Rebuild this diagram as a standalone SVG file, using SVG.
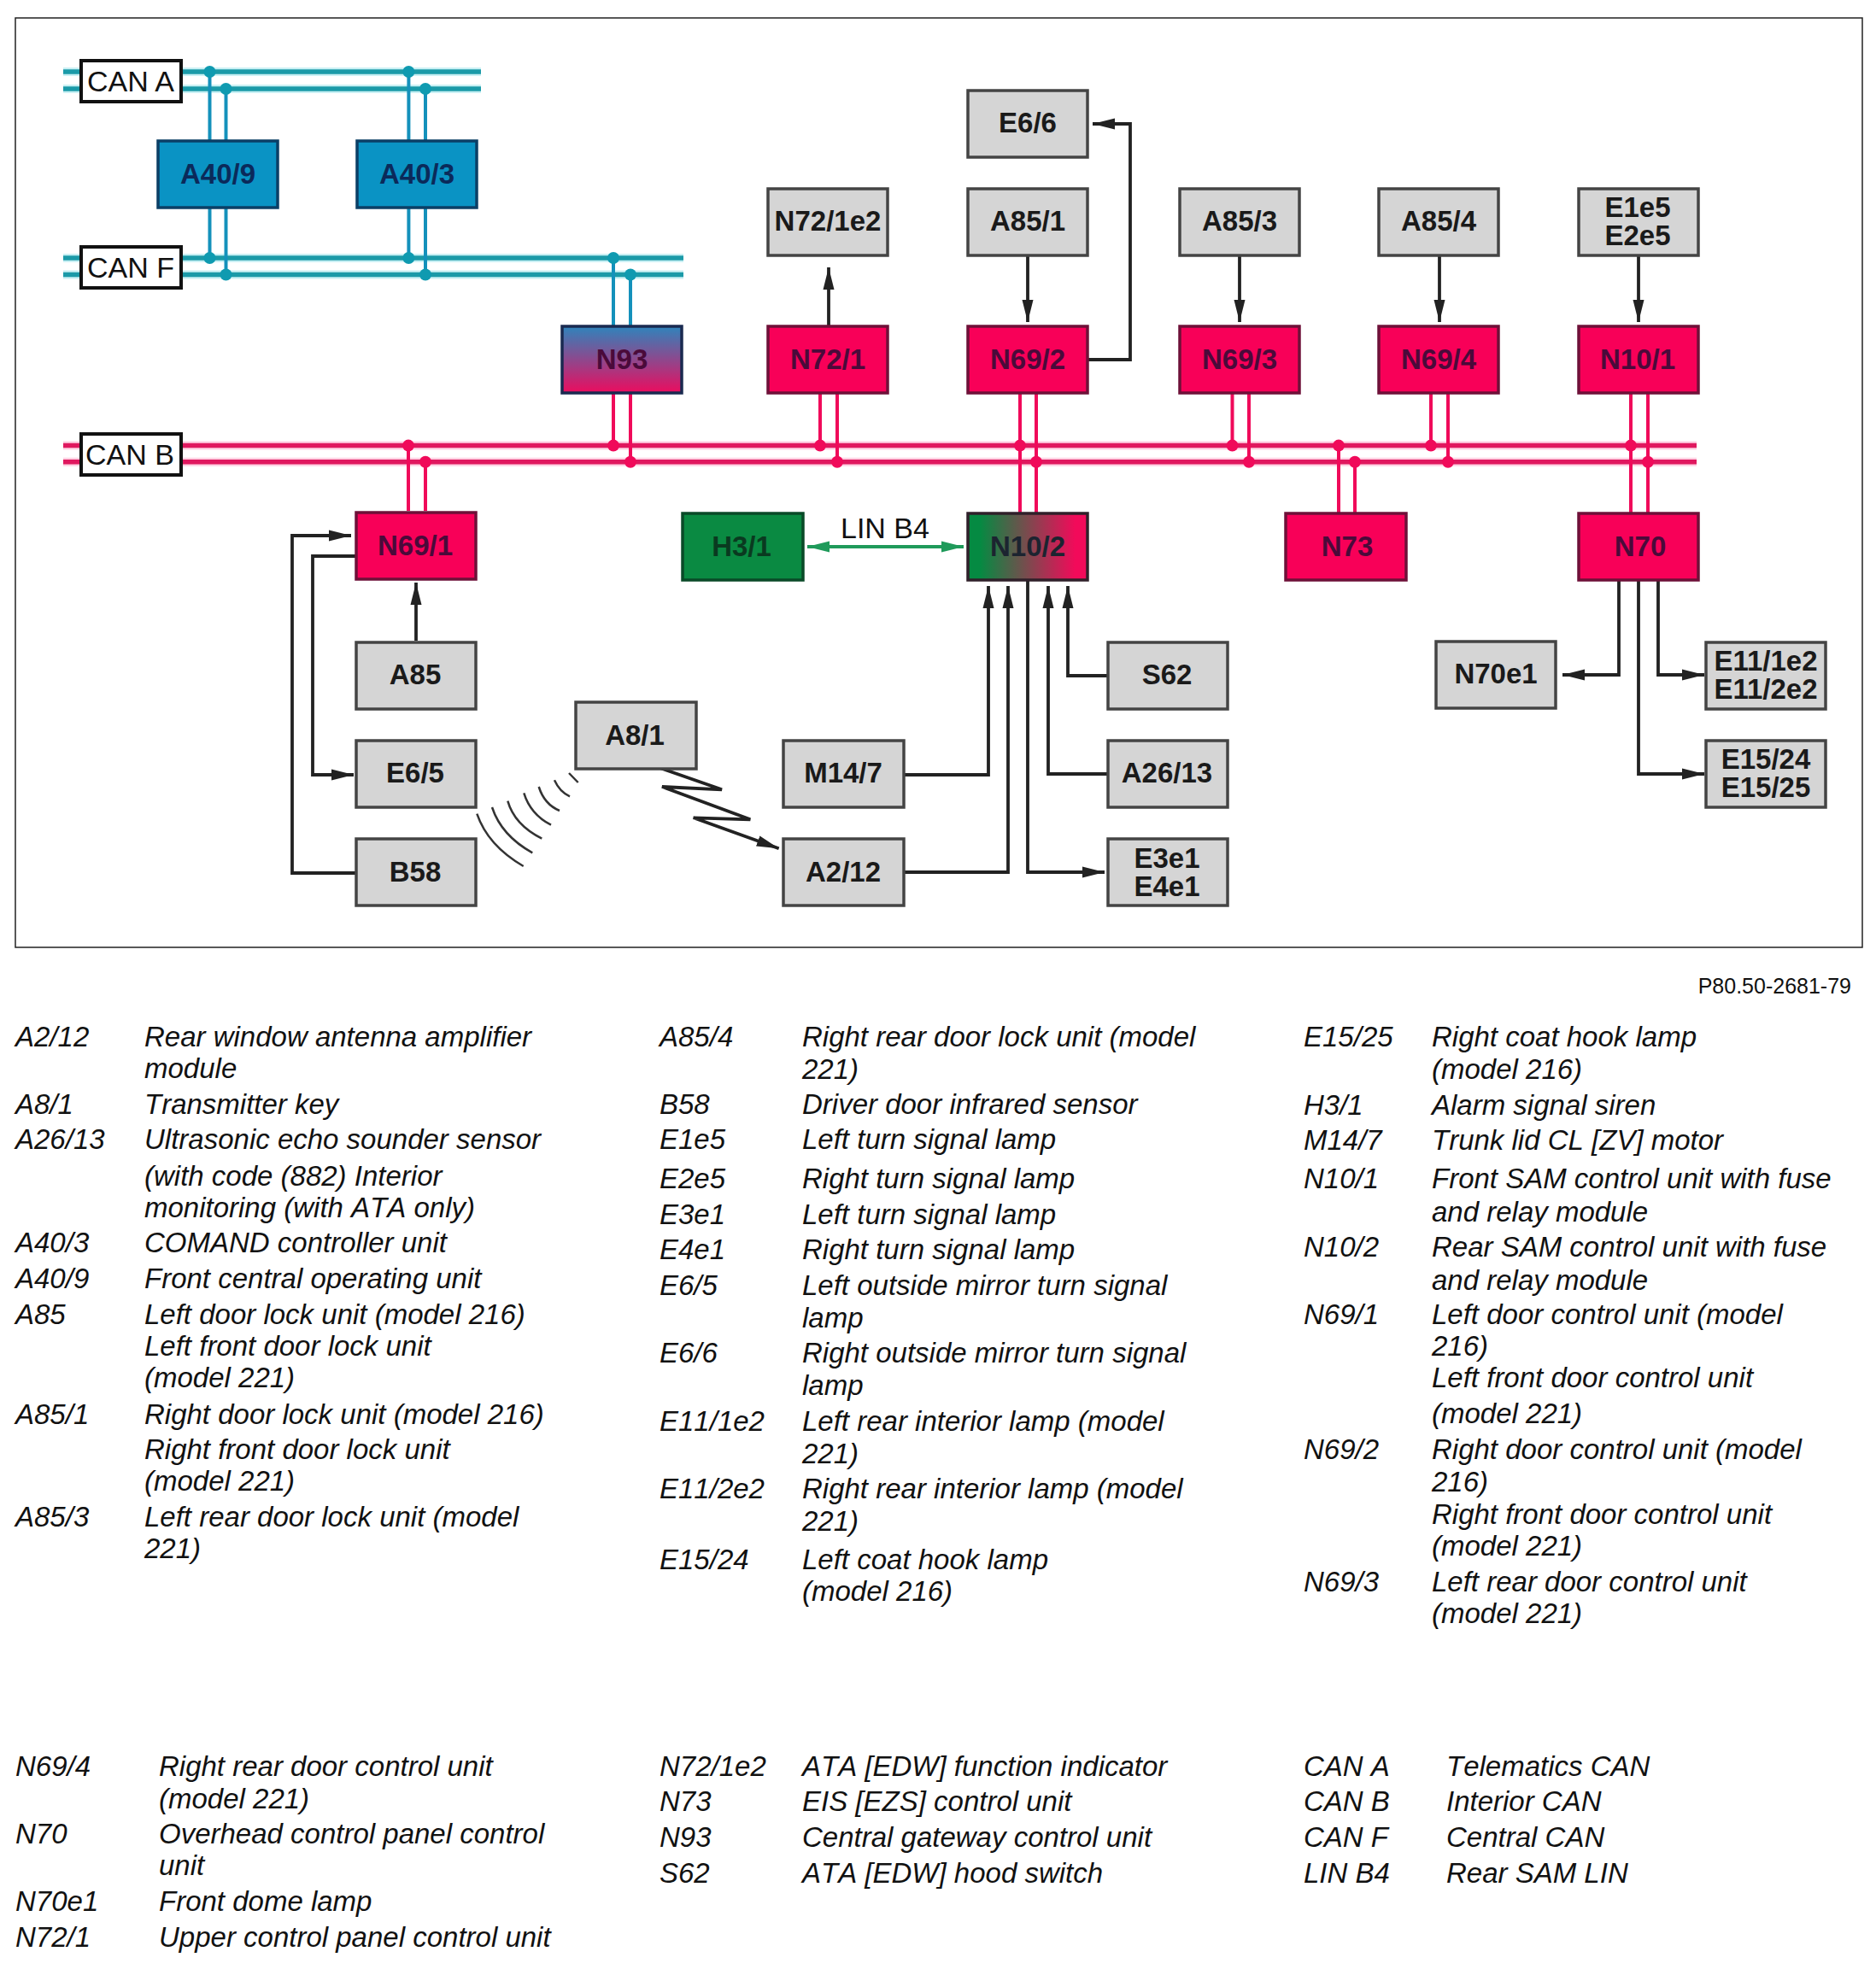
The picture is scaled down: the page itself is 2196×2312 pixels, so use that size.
<svg xmlns="http://www.w3.org/2000/svg" width="2196" height="2312" viewBox="0 0 2196 2312">
<style>
text{font-family:"Liberation Sans",Arial,sans-serif}
.box{stroke-width:3.5}
.gray{fill:#d5d5d5;stroke:#444}
.pink{fill:#f80058;stroke:#6e1038}
.blue{fill:#0a93c4;stroke:#0b3f66}
.green{fill:#0a8a42;stroke:#0a4a28}
.can{fill:#fff;stroke:#111;stroke-width:4}
.nt{font-size:33px;font-weight:bold;text-anchor:middle;fill:#1a1a1a}
.np{fill:#4a0a3a}.nb{fill:#0b2a5a}.ng{fill:#0a3a20}.nm{fill:#1c2430}
.ct{font-size:34px;text-anchor:middle;fill:#111}
.l,.d{font-size:33px;font-style:italic;fill:#111;font-kerning:none}
.t{fill:none;stroke:#222;stroke-width:3.8}
.a{marker-end:url(#ah)}
.tb{fill:none;stroke:#1b9aa8;stroke-width:5.5}
.tv{fill:none;stroke:#1491bb;stroke-width:4}
.pb{fill:none;stroke:#e0185f;stroke-width:5.5}
.pv{fill:none;stroke:#f00a5a;stroke-width:4}
.hb{fill:none;stroke-width:10;opacity:.25}
.td{fill:#0f9ab0}.pd{fill:#f00a5a}
.arc{fill:none;stroke:#333;stroke-width:2.5}
</style>
<defs>
<marker id="ah" markerUnits="userSpaceOnUse" markerWidth="28" markerHeight="14" refX="26" refY="7" orient="auto"><path d="M0 .5L26 7L0 13.5z" fill="#222"/></marker>
<marker id="ag" markerUnits="userSpaceOnUse" markerWidth="28" markerHeight="14" refX="26" refY="7" orient="auto-start-reverse"><path d="M0 .5L26 7L0 13.5z" fill="#1f9a5a"/></marker>
<linearGradient id="gN93" x1="0" y1="0" x2="0" y2="1"><stop offset="0" stop-color="#2f84bc"/><stop offset="1" stop-color="#ec0c5e"/></linearGradient>
<linearGradient id="gN102" x1="0" y1="0" x2="1" y2="0"><stop offset=".1" stop-color="#058a42"/><stop offset=".9" stop-color="#f20a5a"/></linearGradient>
</defs>
<rect id="frame" x="18" y="21" width="2162" height="1088" fill="#fff" stroke="#222" stroke-width="1.5"/>
<g id="connectors">
<path class="hb" stroke="#2cc4d4" d="M74 84H563M74 104H563M74 302H800M74 321.500H800"/>
<path class="hb" stroke="#ff4a90" d="M74 521.600H1986M74 540.800H1986"/>
<path class="tb" d="M74 84H563M74 104H563M74 302H800M74 321.500H800"/>
<path class="pb" d="M74 521.600H1986M74 540.800H1986"/>
<path class="tv" d="M245.500 84V165M264.500 104V165M245.500 243V302M264.500 243V321.500M478.400 84V165M498 104V165M478.400 243V302M498 243V321.500M718 302V382M738 321.500V382"/>
<path class="pv" d="M718 461V521.600M738 461V540.800M960 461V521.600M980 461V540.800M1194 461V601M1213 461V601M1442.500 461V521.600M1462 461V540.800M1675 461V521.600M1695 461V540.800M1909 461V601M1929 461V601M478 521.600V598M498 540.800V598M1567 521.600V601M1586 540.800V601"/>
<g class="td"><circle cx="245.500" cy="84" r="7"/><circle cx="478.400" cy="84" r="7"/><circle cx="264.500" cy="104" r="7"/><circle cx="498" cy="104" r="7"/><circle cx="245.500" cy="302" r="7"/><circle cx="478.400" cy="302" r="7"/><circle cx="718" cy="302" r="7"/><circle cx="264.500" cy="321.500" r="7"/><circle cx="498" cy="321.500" r="7"/><circle cx="738" cy="321.500" r="7"/></g>
<g class="pd"><circle cx="478" cy="521.600" r="7"/><circle cx="718" cy="521.600" r="7"/><circle cx="960" cy="521.600" r="7"/><circle cx="1194" cy="521.600" r="7"/><circle cx="1442.500" cy="521.600" r="7"/><circle cx="1567" cy="521.600" r="7"/><circle cx="1675" cy="521.600" r="7"/><circle cx="1909" cy="521.600" r="7"/><circle cx="498" cy="540.800" r="7"/><circle cx="738" cy="540.800" r="7"/><circle cx="980" cy="540.800" r="7"/><circle cx="1213" cy="540.800" r="7"/><circle cx="1462" cy="540.800" r="7"/><circle cx="1586" cy="540.800" r="7"/><circle cx="1695" cy="540.800" r="7"/><circle cx="1929" cy="540.800" r="7"/></g>
<path class="t a" d="M970 382V313"/>
<path class="t a" d="M1273 421H1323V145H1279"/>
<path class="t a" d="M1203 299V377"/>
<path class="t a" d="M1451 299V377"/>
<path class="t a" d="M1685 299V377"/>
<path class="t a" d="M1918 299V377"/>
<path class="t a" d="M487 750V682"/>
<path class="t a" d="M418 1022H342V627H411"/>
<path class="t a" d="M418 651H366V907H414"/>
<path class="t a" d="M1059 907H1157V686"/>
<path class="t a" d="M1059 1021H1180V686"/>
<path class="t a" d="M1203 680V1021H1293"/>
<path class="t a" d="M1297 906H1227V686"/>
<path class="t a" d="M1297 791H1250V686"/>
<path class="t a" d="M1895 680V790H1829"/>
<path class="t a" d="M1941 680V790H1995"/>
<path class="t a" d="M1918 680V906H1995"/>
<path fill="none" stroke="#1f9a5a" stroke-width="4" marker-start="url(#ag)" marker-end="url(#ag)" d="M945 640H1128"/>
<path class="t a" d="M773.300 899.300L845 924.300L775 921L878.300 959.300L811.700 957.300L911.700 993.300"/>
<g id="ir-waves"><path class="arc" d="M558.300 952.700Q571.100 990 612.700 1014"/><path class="arc" d="M576 945Q587 978.300 623.300 998.300"/><path class="arc" d="M594.300 937.700Q602.300 965.700 634.300 981.700"/><path class="arc" d="M613.300 928.300Q620.800 953 645 965.700"/><path class="arc" d="M630.700 921Q637.200 941.600 655 949"/><path class="arc" d="M649 913.300Q655.300 927.200 667 932.300"/><path class="arc" d="M666 905L676.700 916"/></g>
</g>
<g id="CAN_A"><rect class="can" x="95" y="71" width="117" height="48"/><text class="ct" x="153" y="107">CAN A</text></g>
<g id="CAN_F"><rect class="can" x="95" y="289" width="117" height="48"/><text class="ct" x="153" y="325">CAN F</text></g>
<g id="CAN_B"><rect class="can" x="95" y="508" width="117" height="48"/><text class="ct" x="152" y="544">CAN B</text></g>
<g id="A40_9"><rect class="box blue" x="185" y="165" width="140" height="78"/><text class="nt nb" x="255" y="215">A40/9</text></g>
<g id="A40_3"><rect class="box blue" x="418" y="165" width="140" height="78"/><text class="nt nb" x="488" y="215">A40/3</text></g>
<g id="N72_1e2"><rect class="box gray" x="899" y="221" width="140" height="78"/><text class="nt" x="969" y="270">N72/1e2</text></g>
<g id="E6_6"><rect class="box gray" x="1133" y="106" width="140" height="78"/><text class="nt" x="1203" y="155">E6/6</text></g>
<g id="A85_1"><rect class="box gray" x="1133" y="221" width="140" height="78"/><text class="nt" x="1203" y="270">A85/1</text></g>
<g id="A85_3"><rect class="box gray" x="1381" y="221" width="140" height="78"/><text class="nt" x="1451" y="270">A85/3</text></g>
<g id="A85_4"><rect class="box gray" x="1614" y="221" width="140" height="78"/><text class="nt" x="1684" y="270">A85/4</text></g>
<g id="E1e5"><rect class="box gray" x="1848" y="221" width="140" height="78"/><text class="nt" x="1917" y="254">E1e5</text><text class="nt" x="1917" y="287">E2e5</text></g>
<g id="N93"><rect class="box" fill="url(#gN93)" stroke="#1a2a50" x="658" y="382" width="140" height="78"/><text class="nt np" x="728" y="432">N93</text></g>
<g id="N72_1"><rect class="box pink" x="899" y="382" width="140" height="78"/><text class="nt np" x="969" y="432">N72/1</text></g>
<g id="N69_2"><rect class="box pink" x="1133" y="382" width="140" height="78"/><text class="nt np" x="1203" y="432">N69/2</text></g>
<g id="N69_3"><rect class="box pink" x="1381" y="382" width="140" height="78"/><text class="nt np" x="1451" y="432">N69/3</text></g>
<g id="N69_4"><rect class="box pink" x="1614" y="382" width="140" height="78"/><text class="nt np" x="1684" y="432">N69/4</text></g>
<g id="N10_1"><rect class="box pink" x="1848" y="382" width="140" height="78"/><text class="nt np" x="1917" y="432">N10/1</text></g>
<g id="N69_1"><rect class="box pink" x="417" y="600" width="140" height="78"/><text class="nt np" x="486" y="650">N69/1</text></g>
<g id="H3_1"><rect class="box green" x="799" y="601" width="141" height="78"/><text class="nt ng" x="868" y="651">H3/1</text></g>
<g id="N10_2"><rect class="box" fill="url(#gN102)" stroke="#30202a" x="1133" y="601" width="140" height="78"/><text class="nt nm" x="1203" y="651">N10/2</text></g>
<g id="N73"><rect class="box pink" x="1505" y="601" width="141" height="78"/><text class="nt np" x="1577" y="651">N73</text></g>
<g id="N70"><rect class="box pink" x="1848" y="601" width="140" height="78"/><text class="nt np" x="1920" y="651">N70</text></g>
<g id="A85"><rect class="box gray" x="417" y="752" width="140" height="78"/><text class="nt" x="486" y="801">A85</text></g>
<g id="E6_5"><rect class="box gray" x="417" y="867" width="140" height="78"/><text class="nt" x="486" y="916">E6/5</text></g>
<g id="B58"><rect class="box gray" x="417" y="982" width="140" height="78"/><text class="nt" x="486" y="1032">B58</text></g>
<g id="A8_1"><rect class="box gray" x="674" y="822" width="141" height="78"/><text class="nt" x="743" y="872">A8/1</text></g>
<g id="M14_7"><rect class="box gray" x="917" y="867" width="141" height="78"/><text class="nt" x="987" y="916">M14/7</text></g>
<g id="A2_12"><rect class="box gray" x="917" y="982" width="141" height="78"/><text class="nt" x="987" y="1032">A2/12</text></g>
<g id="S62"><rect class="box gray" x="1297" y="752" width="140" height="78"/><text class="nt" x="1366" y="801">S62</text></g>
<g id="A26_13"><rect class="box gray" x="1297" y="867" width="140" height="78"/><text class="nt" x="1366" y="916">A26/13</text></g>
<g id="E3e1"><rect class="box gray" x="1297" y="982" width="140" height="78"/><text class="nt" x="1366" y="1016">E3e1</text><text class="nt" x="1366" y="1049">E4e1</text></g>
<g id="N70e1"><rect class="box gray" x="1681" y="751" width="140" height="78"/><text class="nt" x="1751" y="800">N70e1</text></g>
<g id="E11"><rect class="box gray" x="1997" y="752" width="140" height="78"/><text class="nt" x="2067" y="785">E11/1e2</text><text class="nt" x="2067" y="818">E11/2e2</text></g>
<g id="E15"><rect class="box gray" x="1997" y="867" width="140" height="78"/><text class="nt" x="2067" y="900">E15/24</text><text class="nt" x="2067" y="933">E15/25</text></g>
<text class="ct" x="1036" y="630">LIN B4</text>
<text x="2167" y="1163" font-size="25" text-anchor="end" fill="#111">P80.50-2681-79</text>
<g id="legend">
<text class="l" x="18" y="1225">A2/12</text><text class="d" x="169" y="1225">Rear window antenna amplifier</text>
<text class="d" x="169" y="1262">module</text>
<text class="l" x="18" y="1304">A8/1</text><text class="d" x="169" y="1304">Transmitter key</text>
<text class="l" x="18" y="1345">A26/13</text><text class="d" x="169" y="1345">Ultrasonic echo sounder sensor</text>
<text class="d" x="169" y="1388">(with code (882) Interior</text>
<text class="d" x="169" y="1425">monitoring (with ATA only)</text>
<text class="l" x="18" y="1466">A40/3</text><text class="d" x="169" y="1466">COMAND controller unit</text>
<text class="l" x="18" y="1508">A40/9</text><text class="d" x="169" y="1508">Front central operating unit</text>
<text class="l" x="18" y="1550">A85</text><text class="d" x="169" y="1550">Left door lock unit (model 216)</text>
<text class="d" x="169" y="1587">Left front door lock unit</text>
<text class="d" x="169" y="1624">(model 221)</text>
<text class="l" x="18" y="1667">A85/1</text><text class="d" x="169" y="1667">Right door lock unit (model 216)</text>
<text class="d" x="169" y="1708">Right front door lock unit</text>
<text class="d" x="169" y="1745">(model 221)</text>
<text class="l" x="18" y="1787">A85/3</text><text class="d" x="169" y="1787">Left rear door lock unit (model</text>
<text class="d" x="169" y="1824">221)</text>
<text class="l" x="772" y="1225">A85/4</text><text class="d" x="939" y="1225">Right rear door lock unit (model</text>
<text class="d" x="939" y="1263">221)</text>
<text class="l" x="772" y="1304">B58</text><text class="d" x="939" y="1304">Driver door infrared sensor</text>
<text class="l" x="772" y="1345">E1e5</text><text class="d" x="939" y="1345">Left turn signal lamp</text>
<text class="l" x="772" y="1391">E2e5</text><text class="d" x="939" y="1391">Right turn signal lamp</text>
<text class="l" x="772" y="1433">E3e1</text><text class="d" x="939" y="1433">Left turn signal lamp</text>
<text class="l" x="772" y="1474">E4e1</text><text class="d" x="939" y="1474">Right turn signal lamp</text>
<text class="l" x="772" y="1516">E6/5</text><text class="d" x="939" y="1516">Left outside mirror turn signal</text>
<text class="d" x="939" y="1554">lamp</text>
<text class="l" x="772" y="1595">E6/6</text><text class="d" x="939" y="1595">Right outside mirror turn signal</text>
<text class="d" x="939" y="1633">lamp</text>
<text class="l" x="772" y="1675">E11/1e2</text><text class="d" x="939" y="1675">Left rear interior lamp (model</text>
<text class="d" x="939" y="1713">221)</text>
<text class="l" x="772" y="1754">E11/2e2</text><text class="d" x="939" y="1754">Right rear interior lamp (model</text>
<text class="d" x="939" y="1792">221)</text>
<text class="l" x="772" y="1837">E15/24</text><text class="d" x="939" y="1837">Left coat hook lamp</text>
<text class="d" x="939" y="1874">(model 216)</text>
<text class="l" x="1526" y="1225">E15/25</text><text class="d" x="1676" y="1225">Right coat hook lamp</text>
<text class="d" x="1676" y="1263">(model 216)</text>
<text class="l" x="1526" y="1305">H3/1</text><text class="d" x="1676" y="1305">Alarm signal siren</text>
<text class="l" x="1526" y="1346">M14/7</text><text class="d" x="1676" y="1346">Trunk lid CL [ZV] motor</text>
<text class="l" x="1526" y="1391">N10/1</text><text class="d" x="1676" y="1391">Front SAM control unit with fuse</text>
<text class="d" x="1676" y="1430">and relay module</text>
<text class="l" x="1526" y="1471">N10/2</text><text class="d" x="1676" y="1471">Rear SAM control unit with fuse</text>
<text class="d" x="1676" y="1510">and relay module</text>
<text class="l" x="1526" y="1550">N69/1</text><text class="d" x="1676" y="1550">Left door control unit (model</text>
<text class="d" x="1676" y="1587">216)</text>
<text class="d" x="1676" y="1624">Left front door control unit</text>
<text class="d" x="1676" y="1666">(model 221)</text>
<text class="l" x="1526" y="1708">N69/2</text><text class="d" x="1676" y="1708">Right door control unit (model</text>
<text class="d" x="1676" y="1746">216)</text>
<text class="d" x="1676" y="1784">Right front door control unit</text>
<text class="d" x="1676" y="1821">(model 221)</text>
<text class="l" x="1526" y="1863">N69/3</text><text class="d" x="1676" y="1863">Left rear door control unit</text>
<text class="d" x="1676" y="1900">(model 221)</text>
<text class="l" x="18" y="2079">N69/4</text><text class="d" x="186" y="2079">Right rear door control unit</text>
<text class="d" x="186" y="2117">(model 221)</text>
<text class="l" x="18" y="2158">N70</text><text class="d" x="186" y="2158">Overhead control panel control</text>
<text class="d" x="186" y="2195">unit</text>
<text class="l" x="18" y="2237">N70e1</text><text class="d" x="186" y="2237">Front dome lamp</text>
<text class="l" x="18" y="2279">N72/1</text><text class="d" x="186" y="2279">Upper control panel control unit</text>
<text class="l" x="772" y="2079">N72/1e2</text><text class="d" x="939" y="2079">ATA [EDW] function indicator</text>
<text class="l" x="772" y="2120">N73</text><text class="d" x="939" y="2120">EIS [EZS] control unit</text>
<text class="l" x="772" y="2162">N93</text><text class="d" x="939" y="2162">Central gateway control unit</text>
<text class="l" x="772" y="2204">S62</text><text class="d" x="939" y="2204">ATA [EDW] hood switch</text>
<text class="l" x="1526" y="2079">CAN A</text><text class="d" x="1693" y="2079">Telematics CAN</text>
<text class="l" x="1526" y="2120">CAN B</text><text class="d" x="1693" y="2120">Interior CAN</text>
<text class="l" x="1526" y="2162">CAN F</text><text class="d" x="1693" y="2162">Central CAN</text>
<text class="l" x="1526" y="2204">LIN B4</text><text class="d" x="1693" y="2204">Rear SAM LIN</text>
</g>
</svg>
